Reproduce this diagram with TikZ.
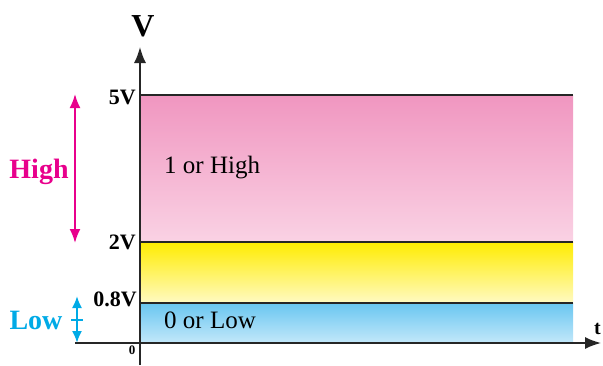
\documentclass[tikz,border=0pt]{standalone}
\usepackage{fontspec}
\setmainfont{Liberation Serif}
\usetikzlibrary{arrows.meta}
\definecolor{pinkT}{RGB}{240,150,192}
\definecolor{pinkB}{RGB}{250,210,228}
\definecolor{yelT}{RGB}{255,236,0}
\definecolor{yelB}{RGB}{255,250,195}
\definecolor{bluT}{RGB}{105,198,240}
\definecolor{bluB}{RGB}{195,232,250}
\definecolor{mag}{RGB}{232,0,140}
\definecolor{cya}{RGB}{0,170,230}
\tikzset{
  axis/.style={line width=1.6pt, draw=black!85},
  level/.style={line width=1.4pt, draw=black!85},
  lvlabel/.style={font=\bfseries\fontsize{22}{22}\selectfont, anchor=east, inner sep=0pt},
  region/.style={font=\fontsize{25}{25}\selectfont, anchor=west, inner sep=0pt},
}
\begin{document}
\begin{tikzpicture}[x=1pt,y=-1pt]
\useasboundingbox (0,0) rectangle (603,365);
\shade[top color=pinkT, bottom color=pinkB] (140,95) rectangle (573,242);
\shade[top color=yelT, bottom color=yelB] (140,242) rectangle (573,303);
\shade[top color=bluT, bottom color=bluB] (140,303) rectangle (573,343);
\draw[level] (140,95) -- (573,95);
\draw[level] (140,242) -- (573,242);
\draw[level] (140,303) -- (573,303);
\coordinate (ytop) at (140,47);
\coordinate (xl) at (75,343);
\coordinate (xr) at (601,343);
\draw[axis,-{Latex[length=16pt,width=12pt]}] (140,365) -- (ytop);
\draw[axis,-{Latex[length=16pt,width=12pt]}] (xl) -- (xr);
\node[font=\bfseries\fontsize{32}{32}\selectfont, inner sep=0pt] (V) at (143,26) {V};
\node[font=\bfseries\fontsize{20}{20}\selectfont, inner sep=0pt, anchor=east] (t) at (601,329) {t};
\node[lvlabel] (l5) at (136,97) {5V};
\node[lvlabel] (l2) at (136,242) {2V};
\node[lvlabel] (l08) at (137,299) {0.8V};
\node[font=\bfseries\fontsize{13}{13}\selectfont, inner sep=0pt] (l0) at (132,350) {0};
\node[region] (hi) at (164,168) {1 or High};
\node[region] (lo) at (164,320) {0 or Low};
\coordinate (ha) at (75,94);
\coordinate (hb) at (75,243);
\draw[mag, line width=2pt, {Latex[length=14pt,width=11pt]}-{Latex[length=14pt,width=11pt]}] (ha) -- (hb);
\node[mag, font=\bfseries\fontsize{28}{28}\selectfont, inner sep=0pt] (high) at (39,172) {High};
\coordinate (la) at (77,296);
\coordinate (lb) at (77,343);
\draw[cya, line width=2pt, {Latex[length=12pt,width=10pt]}-{Latex[length=12pt,width=10pt]}] (la) -- (lb);
\draw[cya, line width=2pt] (71,320) -- (83,320);
\node[cya, font=\bfseries\fontsize{28}{28}\selectfont, inner sep=0pt] (low) at (36,320) {Low};
\end{tikzpicture}
\end{document}
